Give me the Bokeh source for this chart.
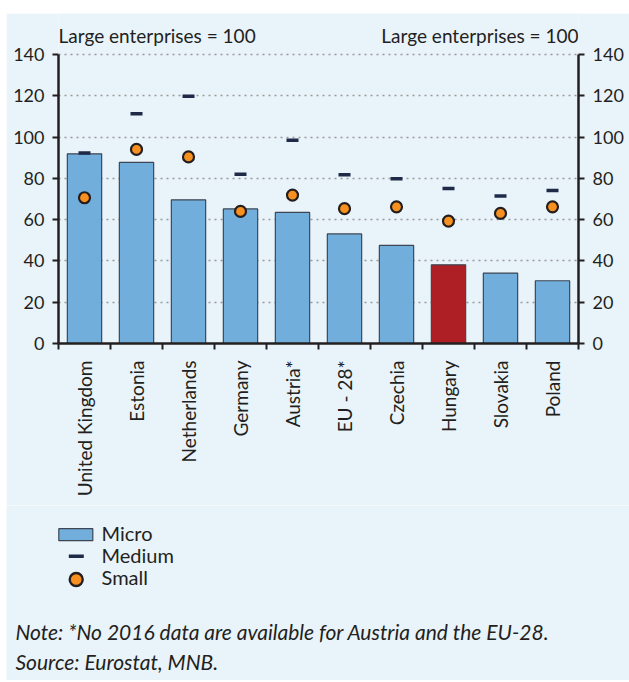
import math
from bokeh.plotting import figure
from bokeh.models import LinearAxis, FixedTicker, Range1d, Label, ColumnDataSource, Grid
from bokeh.layouts import column
from bokeh.embed import file_html
from bokeh.resources import INLINE
from bokeh.core.properties import value

# ---------------- data ----------------
countries = ["United Kingdom", "Estonia", "Netherlands", "Germany", "Austria*",
             "EU - 28*", "Czechia", "Hungary", "Slovakia", "Poland"]
micro = [91.9, 87.7, 69.6, 65.2, 63.5, 53.1, 47.5, 38.1, 34.1, 30.4]
medium = [92.3, 111.3, 119.8, 82.0, 98.4, 81.7, 79.8, 75.1, 71.4, 74.1]
small = [70.6, 94.0, 90.4, 64.0, 71.9, 65.3, 66.2, 59.3, 63.0, 66.2]
y_ticks = [0, 20, 40, 60, 80, 100, 120, 140]
series_names = ["Micro", "Medium", "Small"]
highlight = "Hungary"
unit_label = "Large enterprises = 100"
note_text = "Note: *No 2016 data are available for Austria and the EU-28."
source_text = "Source: Eurostat, MNB."

# ---------------- styles ----------------
BG = "#e9f3fa"
BLUE = "#72aedb"
RED = "#ad1f24"
ORANGE = "#f7901e"
NAVY = "#1e2a48"
DARK = "#231f20"
BAR_LINE = "#3d4652"
TOPLINE = "#1d2b6b"
FONT = "Lato"

W = 623
n = len(countries)
xs = list(range(n))
bar_colors = [RED if c == highlight else BLUE for c in countries]
src = ColumnDataSource(dict(x=xs, micro=micro, medium=medium, small=small, color=bar_colors))

# top rule
band = figure(width=W, height=3, min_border=0, x_axis_type=None, y_axis_type=None,
              output_backend="svg", toolbar_location=None)
band.background_fill_color = TOPLINE
band.border_fill_color = TOPLINE
band.outline_line_color = None
band.frame_align = False

# main chart: frame extends above 140 so the unit labels sit inside it
frame_h_axis = 289.0           # pixel height of the 0..140 span
top_pad = 41.0                 # pixels above the 140 line
px = (y_ticks[-1] - y_ticks[0]) / frame_h_axis
y_top = y_ticks[-1] + top_pad * px

p = figure(width=W, height=492,
           x_range=Range1d(-0.5, n - 0.5), y_range=Range1d(y_ticks[0], y_top),
           x_axis_type=None, y_axis_type=None,
           output_backend="svg", toolbar_location=None,
           min_border_left=52, min_border_right=51, min_border_top=0, min_border_bottom=162)
p.background_fill_color = BG
p.border_fill_color = BG
p.outline_line_color = None
p.frame_align = False

def style_y(ax):
    ax.ticker = FixedTicker(ticks=y_ticks)
    ax.bounds = (y_ticks[0], y_ticks[-1])
    ax.axis_line_color = DARK
    ax.axis_line_width = 2.5
    ax.major_tick_line_color = DARK
    ax.major_tick_line_width = 2
    ax.major_tick_out = 6
    ax.major_tick_in = 0
    ax.minor_tick_line_color = None
    ax.major_label_text_font = FONT
    ax.major_label_text_font_size = "18px"
    ax.major_label_text_color = DARK
    ax.major_label_standoff = 8

yl = LinearAxis()
style_y(yl)
p.add_layout(yl, "left")
yr = LinearAxis()
style_y(yr)
p.add_layout(yr, "right")

xa = LinearAxis(ticker=FixedTicker(ticks=xs, minor_ticks=[i - 0.5 for i in range(n + 1)]),
                major_label_overrides={i: c for i, c in zip(xs, countries)})
xa.axis_line_color = DARK
xa.axis_line_width = 2.5
xa.major_tick_line_color = None
xa.major_tick_out = 0
xa.major_tick_in = 0
xa.minor_tick_line_color = DARK
xa.minor_tick_line_width = 2
xa.minor_tick_out = 6
xa.minor_tick_in = 0
xa.major_label_orientation = math.pi / 2
xa.major_label_standoff = 11
xa.major_label_text_font = FONT
xa.major_label_text_font_size = "19px"
xa.major_label_text_color = DARK
p.add_layout(xa, "below")

grid = Grid(dimension=1, ticker=FixedTicker(ticks=y_ticks[1:]))
grid.grid_line_color = "#9a9a9a"
grid.grid_line_width = 1.3
grid.grid_line_dash = "2 4"
p.add_layout(grid)

p.vbar(x="x", top="micro", bottom=0, width=0.66, fill_color="color",
       line_color=BAR_LINE, line_width=1.2, source=src)
p.scatter(x="x", y="medium", marker="dash", size=12, line_color=NAVY,
          line_width=3.5, source=src)
p.scatter(x="x", y="small", marker="circle", size=11, fill_color=ORANGE,
          line_color=DARK, line_width=2.2, source=src)

label_y = y_ticks[-1] + 19.0 * px
for xpos, align in [(-0.5, "left"), (n - 0.5, "right")]:
    p.add_layout(Label(x=xpos, y=label_y, text=unit_label, text_align=align,
                       text_baseline="alphabetic", text_font=FONT,
                       text_font_size="19px", text_color=DARK))

# ---------------- legend + notes panel ----------------
LH = 175
pl = figure(width=W, height=LH, x_range=Range1d(0, W), y_range=Range1d(LH, 0),
            x_axis_type=None, y_axis_type=None, min_border=0,
            output_backend="svg", toolbar_location=None)
pl.background_fill_color = BG
pl.border_fill_color = BG
pl.outline_line_color = None
pl.frame_align = False

pl.rect(x=69.3, y=29.2, width=34, height=12, fill_color=BLUE, line_color=BAR_LINE, line_width=1.2)
pl.scatter(x=69.8, y=50.7, marker="dash", size=15, line_color=NAVY, line_width=3.5)
pl.scatter(x=69.7, y=74, marker="circle", size=13, fill_color=ORANGE, line_color=DARK, line_width=2.4)
pl.text(x=[95, 95, 95], y=[27, 49, 71], text=series_names, text_baseline="alphabetic",
        text_font=value(FONT), text_font_size="20px", text_color=DARK)
pl.text(x=[9, 9], y=[126, 156], text=[note_text, source_text], text_baseline="alphabetic",
        text_font=value(FONT), text_font_style="italic", text_font_size="21px", text_color=DARK)

layout = column(band, p, pl, spacing=0, margin=(10, 0, 0, 6))

open("out.html", "w").write(file_html(layout, INLINE))
